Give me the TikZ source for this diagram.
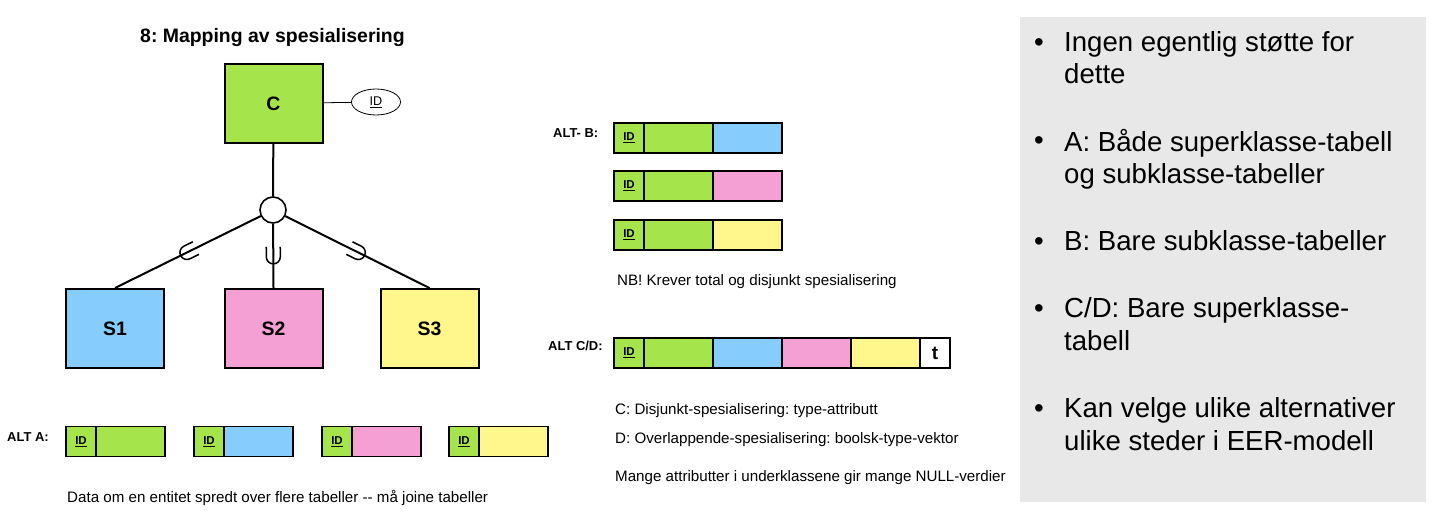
\documentclass[tikz,border=0pt]{standalone}
\usepackage{fontspec}
\setmainfont{Liberation Sans}
\usetikzlibrary{positioning, shapes.geometric}

\definecolor{cgreen}{HTML}{A5E54B}
\definecolor{cblue}{HTML}{86CCFC}
\definecolor{cpink}{HTML}{F4A0D4}
\definecolor{cyellow}{HTML}{FFF68C}
\definecolor{cpanel}{HTML}{E8E8E8}

\tikzset{subsetmark/.pic = {\draw[line width=1.5bp] (-9,-7) -- (1,-7) arc[start angle=-90, end angle=90, radius=7] -- (-9,7);}}

\begin{document}
\frenchspacing
\begin{tikzpicture}[x=1bp, y=-1bp,
    ent/.style = {draw, line width=2bp, minimum width=98bp, minimum height=79bp, inner sep=0, font=\fontsize{19.5}{20}\selectfont\bfseries},
    idc/.style = {draw, line width=1.6bp, fill=cgreen, minimum width=30bp, minimum height=30bp, inner sep=0, outer sep=0, font=\fontsize{11.5}{12}\selectfont\bfseries},
    cell/.style = {draw, line width=1.6bp, minimum width=69bp, minimum height=30bp, inner sep=0, outer sep=0},
    lbl/.style = {anchor=base west, inner sep=0, font=\fontsize{13}{14}\selectfont\bfseries},
    note/.style = {anchor=base west, inner sep=0, font=\fontsize{15.2}{16}\selectfont},
    item/.style = {anchor=base west, inner sep=0, align=left, font=\fontsize{27.7}{33}\selectfont},
    conn/.style = {line width=2bp}]
    \useasboundingbox[fill=white] (0,0) rectangle (1441,518);

    \node[anchor=base west, inner sep=0, font=\fontsize{19.5}{20}\selectfont\bfseries] (title) at (140,43) {8: Mapping av spesialisering};

    % EER part
    \node[ent, fill=cgreen] (c) at (273.5,103.5) {C};
    \node[ellipse, draw, line width=0.8bp, minimum width=49bp, minimum height=26bp, inner sep=0, font=\fontsize{12.7}{13}\selectfont] (cid) at (376,102) {\underline{ID}};
    \node[circle, draw, line width=1.6bp, minimum size=26bp, inner sep=0] (u) at (273,210) {};
    \node[ent, fill=cblue] (s1) at (115,328.5) {S1};
    \node[ent, fill=cpink] (s2) at (273.5,328.5) {S2};
    \node[ent, fill=cyellow] (s3) at (429.5,328.5) {S3};

    \draw[line width=0.8bp] (c) -- (cid);
    \draw[conn] (c) -- (u);
    \draw[conn] (u) -- (s1.north) pic[pos=.5, sloped, allow upside down] {subsetmark};
    \draw[conn] (u) -- (s2.north) pic[pos=.5, sloped, allow upside down] {subsetmark};
    \draw[conn] (u) -- (s3.north) pic[pos=.5, sloped, allow upside down] {subsetmark};

    % ALT A
    \node[lbl] (alta) at (7,441) {ALT A:};
    \node[idc] (a1id) at (81,441.5) {\underline{ID}};
    \node[cell, fill=cgreen, right=0pt of a1id] (a1) {};
    \node[idc] (a2id) at (209,441.5) {\underline{ID}};
    \node[cell, fill=cblue, right=0pt of a2id] (a2) {};
    \node[idc] (a3id) at (337,441.5) {\underline{ID}};
    \node[cell, fill=cpink, right=0pt of a3id] (a3) {};
    \node[idc] (a4id) at (464,441.5) {\underline{ID}};
    \node[cell, fill=cyellow, right=0pt of a4id] (a4) {};
    \node[note] (nota) at (67,502) {Data om en entitet spredt over flere tabeller -{}- må joine tabeller};

    % ALT B
    \node[lbl] (altb) at (553,138) {ALT- B:};
    \node[idc] (b1id) at (629,138) {\underline{ID}};
    \node[cell, fill=cgreen, right=0pt of b1id] (b1c) {};
    \node[cell, fill=cblue, right=0pt of b1c] (b1s) {};
    \node[idc] (b2id) at (629,186) {\underline{ID}};
    \node[cell, fill=cgreen, right=0pt of b2id] (b2c) {};
    \node[cell, fill=cpink, right=0pt of b2c] (b2s) {};
    \node[idc] (b3id) at (629,235) {\underline{ID}};
    \node[cell, fill=cgreen, right=0pt of b3id] (b3c) {};
    \node[cell, fill=cyellow, right=0pt of b3c] (b3s) {};
    \node[note] (notb) at (617,286) {NB! Krever total og disjunkt spesialisering};

    % ALT C/D
    \node[lbl] (altcd) at (548,350) {ALT C/D:};
    \node[idc] (cdid) at (629,353) {\underline{ID}};
    \node[cell, fill=cgreen, right=0pt of cdid] (cdc) {};
    \node[cell, fill=cblue, right=0pt of cdc] (cd1) {};
    \node[cell, fill=cpink, right=0pt of cd1] (cd2) {};
    \node[cell, fill=cyellow, right=0pt of cd2] (cd3) {};
    \node[cell, fill=white, minimum width=30bp, right=0pt of cd3, font=\fontsize{19}{20}\selectfont\bfseries] (cdt) {t};
    \node[note] (notc) at (615,414) {C: Disjunkt-spesialisering: type-attributt};
    \node[note] (notd) at (615,443) {D: Overlappende-spesialisering: boolsk-type-vektor};
    \node[note] (notnull) at (615,481) {Mange attributter i underklassene gir mange NULL-verdier};

    % right panel (multi-line items sit on the baseline of their last line)
    \fill[cpanel] (1020,17) rectangle (1426,502);
    \node[item] (b1) at (1034,52) {\textbullet};
    \node[item] (p1) at (1064,84) {Ingen egentlig støtte for\\dette};
    \node[item] (b2) at (1034,150) {\textbullet};
    \node[item] (p2) at (1064,184) {A: Både superklasse-tabell\\og subklasse-tabeller};
    \node[item] (b3) at (1034,251) {\textbullet};
    \node[item] (p3) at (1064,251) {B: Bare subklasse-tabeller};
    \node[item] (b4) at (1034,317) {\textbullet};
    \node[item] (p4) at (1064,350) {C/D: Bare superklasse-\\tabell};
    \node[item] (b5) at (1034,417) {\textbullet};
    \node[item] (p5) at (1064,450) {Kan velge ulike alternativer\\ulike steder i EER-modell};

\end{tikzpicture}
\end{document}
